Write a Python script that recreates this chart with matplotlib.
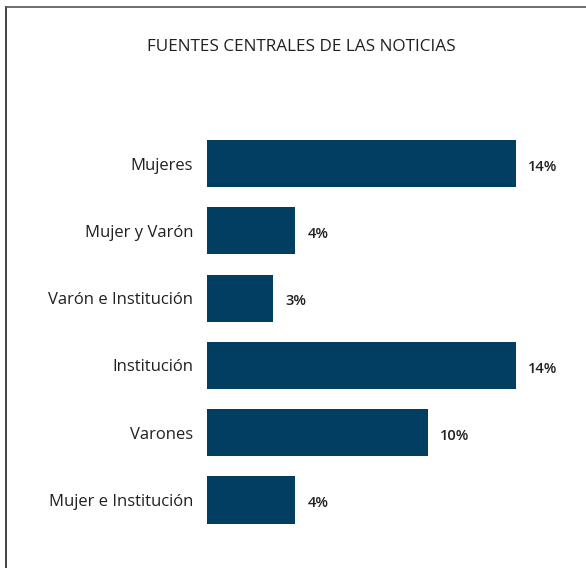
import matplotlib
matplotlib.use("Agg")
import matplotlib.pyplot as plt
from matplotlib.lines import Line2D

categories = ["Mujeres", "Mujer y Varón", "Varón e Institución",
              "Institución", "Varones", "Mujer e Institución"]
values = [14, 4, 3, 14, 10, 4]
value_labels = ["14%", "4%", "3%", "14%", "10%", "4%"]

W, H = 586, 568
BAR = "#023e62"
TXT = "#231f20"

plt.rcParams["font.family"] = ["Open Sans", "DejaVu Sans"]

fig = plt.figure(figsize=(W / 100, H / 100), dpi=100)

# axes placed so bars line up with the reference
x0, x1 = 207, 207 + 16 * 22.07
y_top, y_bot = 129.85, 533.65
ax = fig.add_axes([x0 / W, 1 - y_bot / H, (x1 - x0) / W, (y_bot - y_top) / H])

ypos = list(range(len(categories)))
ax.barh(ypos, values, height=0.70, color=BAR)
ax.set_xlim(0, 16)
ax.set_ylim(len(categories) - 0.5, -0.5)

for y, v, lab in zip(ypos, values, value_labels):
    ax.text(v + 0.55, y + 0.05, lab, ha="left", va="center",
            fontsize=10.5, fontweight="semibold", color=TXT)

ax.set_yticks(ypos)
ax.set_yticklabels(categories, fontsize=12, color=TXT)
ax.tick_params(axis="y", length=0, pad=10)
ax.set_xticks([])
for s in ax.spines.values():
    s.set_visible(False)

fig.text(301 / W, 1 - 47 / H, "FUENTES CENTRALES DE LAS NOTICIAS",
         ha="center", va="center", fontsize=12.3, color=TXT)

# frame, cut off at right and bottom
fig.add_artist(Line2D([5.5 / W, 5.5 / W], [0, 1 - 7 / H],
                      transform=fig.transFigure, color="#222222", lw=1.2))
fig.add_artist(Line2D([5.5 / W, 1], [1 - 7 / H, 1 - 7 / H],
                      transform=fig.transFigure, color="#555555", lw=1.2))

fig.savefig("out.png", dpi=100)
